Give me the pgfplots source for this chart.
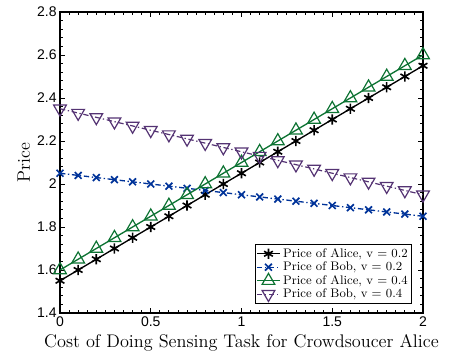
\documentclass[border=0pt]{standalone}
\usepackage{pgfplots}
\pgfplotsset{compat=1.18}
\usepackage{fontspec}
\newfontfamily\tickfont{Liberation Sans}
\definecolor{cblue}{rgb}{0.0,0.2,0.6}
\definecolor{cgreen}{rgb}{0.05,0.45,0.2}
\definecolor{cpurple}{rgb}{0.33,0.2,0.45}
\pgfplotstableread{
x a2 b2 a4 b4
0.0 1.55 2.05 1.60 2.35
0.1 1.60 2.04 1.65 2.33
0.2 1.65 2.03 1.70 2.31
0.3 1.70 2.02 1.75 2.29
0.4 1.75 2.01 1.80 2.27
0.5 1.80 2.00 1.85 2.25
0.6 1.85 1.99 1.90 2.23
0.7 1.90 1.98 1.95 2.21
0.8 1.95 1.97 2.00 2.19
0.9 2.00 1.96 2.05 2.17
1.0 2.05 1.95 2.10 2.15
1.1 2.10 1.94 2.15 2.13
1.2 2.15 1.93 2.20 2.11
1.3 2.20 1.92 2.25 2.09
1.4 2.25 1.91 2.30 2.07
1.5 2.30 1.90 2.35 2.05
1.6 2.35 1.89 2.40 2.03
1.7 2.40 1.88 2.45 2.01
1.8 2.45 1.87 2.50 1.99
1.9 2.50 1.86 2.55 1.97
2.0 2.55 1.85 2.60 1.95
}\datatable
\begin{document}
\begin{tikzpicture}
\begin{axis}[
  at={(0,0)}, anchor=south west,
  scale only axis,
  width=272.25pt, height=225.75pt,
  xmin=0, xmax=2, ymin=1.4, ymax=2.8,
  xtick={0,0.5,1,1.5,2},
  ytick={1.4,1.6,1.8,2,2.2,2.4,2.6,2.8},
  minor x tick num=9,
  minor y tick num=4,
  axis line style={line width=1.1pt},
  tick style={black, line width=0.6pt},
  tick align=inside,
  major tick length=4pt,
  minor tick length=2pt,
  /pgf/number format/assume math mode=true,
  ticklabel style={font=\tickfont\fontsize{10.5}{12}\selectfont},
  xticklabel style={yshift=1pt},
  yticklabel style={xshift=1pt},
  xlabel={Cost of Doing Sensing Task for Crowdsoucer Alice},
  ylabel={Price},
  xlabel style={font=\fontsize{13.7}{15}\selectfont, at={(axis description cs:0.5,0)}, anchor=north, yshift=-12.5pt},
  ylabel style={font=\fontsize{13.5}{15}\selectfont, at={(axis description cs:0,0.5)}, anchor=south, xshift=0pt, yshift=19pt},
  legend pos=south east,
  legend cell align=left,
  legend style={font=\fontsize{9.3}{10}\selectfont, draw=black, line width=0.6pt, inner sep=1pt, row sep=-2pt},
]
\addplot[black, line width=1pt, mark=asterisk, mark size=3.8pt, mark options={line width=1.2pt}] table[x=x,y=a2]{\datatable};
\addlegendentry{Price of Alice, v = 0.2}
\addplot[cblue, line width=1pt, dash pattern=on 4pt off 2pt on 1pt off 2pt, mark=x, mark size=3.6pt, mark options={solid, line width=1.3pt}] table[x=x,y=b2]{\datatable};
\addlegendentry{Price of Bob, v = 0.2}
\addplot[cgreen, line width=1pt, mark=triangle, mark size=5.5pt, mark options={solid, line width=0.9pt}] table[x=x,y=a4]{\datatable};
\addlegendentry{Price of Alice, v = 0.4}
\addplot[cpurple, line width=0.9pt, dash pattern=on 4pt off 2pt on 1pt off 2pt, mark=triangle, mark size=5.5pt, mark options={solid, rotate=180, line width=0.9pt}] table[x=x,y=b4]{\datatable};
\addlegendentry{Price of Bob, v = 0.4}
\end{axis}
\pgfresetboundingbox
\path[use as bounding box] (-45pt,-35.25pt) rectangle (298.5pt,234.75pt);
\end{tikzpicture}
\end{document}
